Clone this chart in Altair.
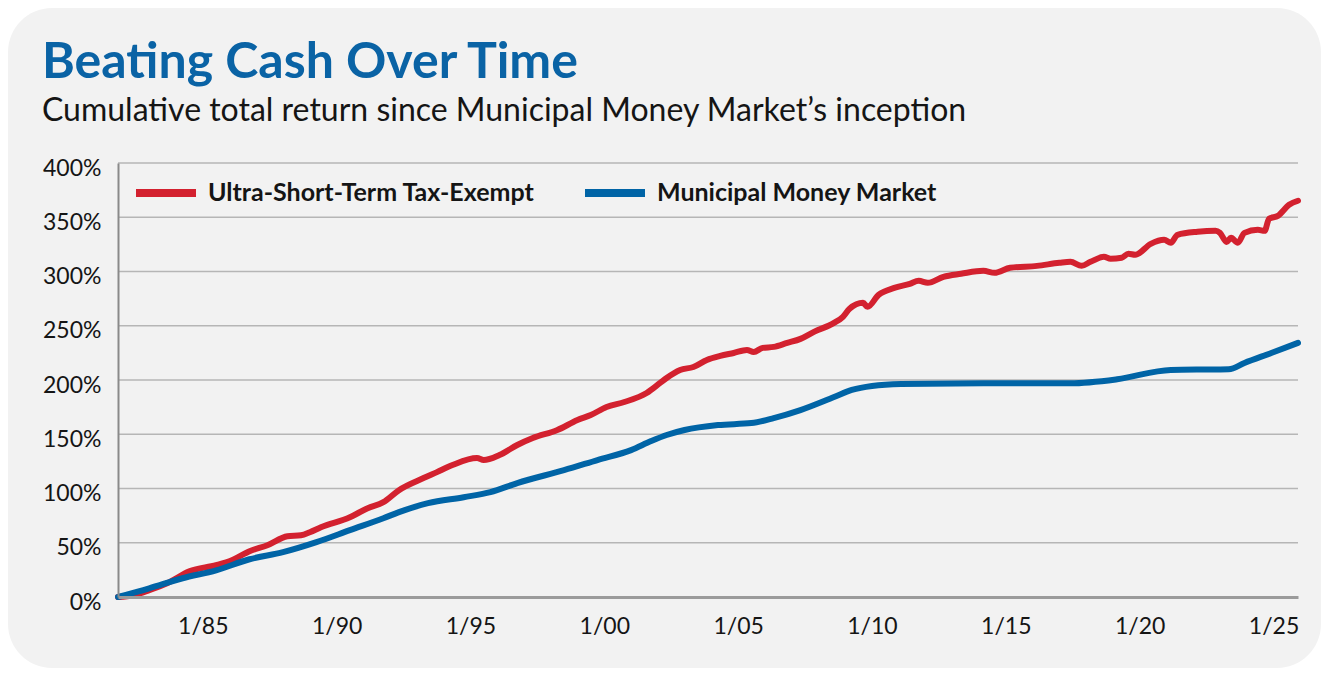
import altair as alt
import pandas as pd

# ---------------- data ----------------
series_names = ["Ultra-Short-Term Tax-Exempt", "Municipal Money Market"]
series_colors = ["#d3212f", "#0064a6"]

red_dates = ["1981-11","1982-06","1983-01","1983-09","1984-07","1985-07","1986-02","1986-10",
             "1987-06","1988-03","1988-09","1989-01","1989-06","1990-07","1991-03","1991-10",
             "1992-05","1993-04","1993-10","1994-05","1995-04","1995-07","1996-02","1996-10",
             "1997-05","1998-04","1999-01","1999-07","2000-02","2000-10","2001-08","2002-02",
             "2002-05","2002-11","2003-05","2003-11","2004-05","2004-11","2005-05","2005-08",
             "2005-12","2006-05","2006-11","2007-05","2007-11","2008-08","2008-12","2009-03",
             "2009-09","2009-11","2010-04","2010-11","2011-06","2011-10","2012-02","2012-09",
             "2013-05","2014-03","2014-08","2015-03","2016-03","2017-01","2017-06","2017-11",
             "2018-03","2018-09","2018-12","2019-05","2019-08","2019-11","2020-06","2020-12",
             "2021-03","2021-06","2022-03","2022-11","2023-01","2023-04","2023-06","2023-09",
             "2023-12","2024-06","2024-09","2024-11","2025-03","2025-08","2025-12"]
red_values = [0, 1.6, 6.2, 12.6, 23.7, 29.3, 33.9, 42.2,
              47.7, 56.0, 56.9, 59.7, 64.3, 73.5, 81.9, 87.4,
              98.5, 109.6, 115.1, 121.6, 128.0, 126.2, 130.8, 140.1,
              146.5, 153.9, 163.1, 167.7, 175.1, 179.7, 188.0, 197.3,
              201.9, 209.3, 212.0, 218.5, 222.2, 224.9, 227.7, 225.9,
              229.6, 230.5, 234.2, 237.9, 244.4, 252.6, 258.2, 265.6,
              271.1, 267.4, 278.5, 284.9, 288.6, 291.4, 289.6, 295.1,
              297.9, 300.6, 298.8, 303.4, 305.2, 308.0, 308.9, 305.2,
              308.9, 313.5, 311.7, 312.6, 316.3, 315.4, 325.5, 329.2,
              326.4, 333.8, 336.6, 337.5, 335.6, 327.3, 331.0, 326.4,
              335.6, 338.4, 337.5, 348.6, 351.3, 361.5, 365.2]

blue_dates = ["1981-11","1983-01","1984-04","1985-07","1986-10","1988-01","1989-04","1990-07",
              "1991-10","1992-05","1993-06","1994-10","1995-10","1996-10","1998-07","1999-10",
              "2001-01","2001-10","2002-05","2003-01","2004-04","2005-07","2006-05","2007-05",
              "2008-08","2009-04","2010-01","2011-02","2014-03","2017-06","2019-03","2021-03",
              "2022-09","2023-05","2023-12","2024-12","2025-12"]
blue_values = [0, 8.0, 17.3, 24.6, 34.8, 41.3, 50.5, 61.6,
               72.6, 78.2, 86.5, 92.0, 96.6, 105.0, 116.9, 126.2,
               135.4, 143.7, 149.3, 153.9, 158.5, 160.3, 164.9, 172.3,
               184.3, 190.8, 194.5, 196.3, 197.0, 197.0, 200.7, 209.3,
               209.7, 209.9, 215.7, 224.9, 234.2]

y_ticks = [0, 50, 100, 150, 200, 250, 300, 350, 400]
x_tick_years = [1985, 1990, 1995, 2000, 2005, 2010, 2015, 2020, 2025]

title_text = "Beating Cash Over Time"
subtitle_text = "Cumulative total return since Municipal Money Market\u2019s inception"

# ---------------- tables ----------------
df = pd.concat([
    pd.DataFrame({"date": [d + "-01" for d in red_dates], "value": red_values, "series": series_names[0]}),
    pd.DataFrame({"date": [d + "-01" for d in blue_dates], "value": blue_values, "series": series_names[1]}),
], ignore_index=True)
grid_df = pd.DataFrame({"v": y_ticks[1:]})
one = pd.DataFrame({"k": [0]})

W, H = 1180, 434
FONT = "Lato"
TXT = "#151515"

x_axis = alt.Axis(
    values=[alt.DateTime(year=y, month=1, date=1, utc=True) for y in x_tick_years],
    labelExpr="'1/' + utcFormat(datum.value, '%y')", title=None, grid=False, ticks=False,
    domain=True, domainColor="#9b9b9b", domainWidth=3,
    labelFont=FONT, labelFontSize=23, labelColor=TXT, labelPadding=18, zindex=1,
)
y_axis = alt.Axis(
    values=y_ticks, labelExpr="datum.value + '%'", title=None, grid=False, ticks=False,
    domain=True, domainColor="#8a8a8a", domainWidth=2,
    labelFont=FONT, labelFontSize=23, labelColor=TXT, labelPadding=17, labelOffset=5, zindex=1,
)
x_scale = alt.Scale(type="utc", domain=[alt.DateTime(year=1981, month=11, date=1, utc=True),
                                        alt.DateTime(year=2025, month=12, date=1, utc=True)])
y_scale = alt.Scale(domain=[0, 400], nice=False)

bg = alt.Chart(one).mark_rect(fill="#f2f2f2", cornerRadius=44).encode(
    x=alt.value(-110), x2=alt.value(W + 23), y=alt.value(-155), y2=alt.value(H + 71)
)

grid = alt.Chart(grid_df).mark_rule(color="#b6b6b6", strokeWidth=1.5).encode(
    y=alt.Y("v:Q", scale=y_scale, axis=y_axis)
)

lines = alt.Chart(df).mark_line(
    strokeWidth=6, strokeCap="round", strokeJoin="round", interpolate="monotone"
).encode(
    x=alt.X("date:T", scale=x_scale, axis=x_axis),
    y=alt.Y("value:Q", scale=y_scale, axis=y_axis),
    color=alt.Color(
        "series:N", title=None,
        scale=alt.Scale(domain=series_names, range=series_colors),
        legend=alt.Legend(
            orient="none", legendX=14, legendY=-4, direction="horizontal",
            symbolType="stroke", symbolStrokeWidth=8, symbolSize=3600,
            labelFont=FONT, labelFontSize=25, labelFontWeight="bold", labelColor=TXT,
            labelOffset=8, columnPadding=34, padding=0, labelLimit=600, zindex=1,
        ),
    ),
)

title = alt.Chart(one).mark_text(
    align="left", baseline="alphabetic", font=FONT, fontSize=50, fontWeight="bold", color="#0a63a5"
).encode(x=alt.value(-76), y=alt.value(-85), text=alt.value(title_text))

subtitle = alt.Chart(one).mark_text(
    align="left", baseline="alphabetic", font=FONT, fontSize=32, color=TXT
).encode(x=alt.value(-76), y=alt.value(-42), text=alt.value(subtitle_text))

chart = alt.layer(bg, grid, lines, title, subtitle).properties(
    width=W, height=H, padding=0, background="white"
).configure_view(strokeWidth=0)

chart.save("out.html", embed_options={"renderer": "svg", "actions": False})
